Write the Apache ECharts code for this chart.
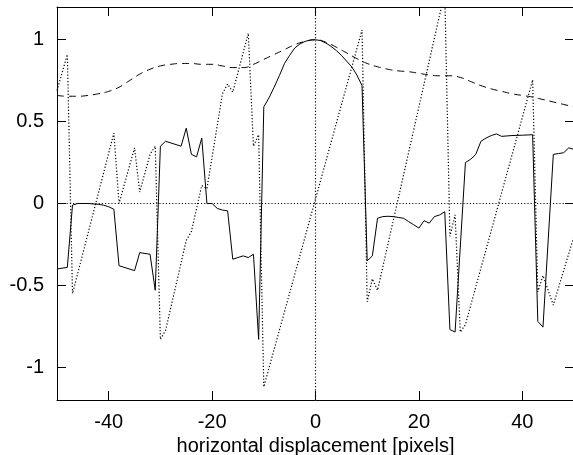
<!DOCTYPE html>
<html>
<head>
<meta charset="utf-8">
<script src="https://cdn.jsdelivr.net/npm/echarts@6/dist/echarts.min.js"></script>
<style>
	html, body { margin: 0; padding: 0; background: #fff; }
	#chart { width: 573px; height: 455px; }
</style>
</head>
<body>
<div id="chart"></div>
<script>
// solid curve [x, y]
var solidLine = [
	[-50,-0.40],[-48,-0.39],[-47,-0.01],[-46,0.0],[-44,0.0],[-42,-0.005],[-41,-0.01],[-40,-0.02],[-39,-0.035],
	[-38,-0.38],[-35,-0.41],[-34,-0.30],[-32,-0.31],[-31,-0.53],[-30,0.35],[-29,0.38],[-26,0.35],[-25,0.46],
	[-24,0.30],[-23,0.285],[-22,0.40],[-21,0.0],[-20,0.0],[-19,-0.03],[-18,-0.04],[-17,-0.045],[-16,-0.34],
	[-15,-0.33],[-14,-0.32],[-13,-0.33],[-12,-0.31],[-11,-0.83],[-10,0.59],[-9,0.645],[-8,0.71],[-7,0.78],
	[-6,0.855],[-5,0.905],[-4,0.95],[-3,0.975],[-2,0.99],[-1,0.998],[0,1.0],[1,0.995],[2,0.98],[3,0.96],
	[4,0.935],[5,0.905],[6,0.87],[7,0.835],[8,0.785],[9,0.72],[10,-0.35],[11,-0.32],[12,-0.09],[13,-0.08],
	[14,-0.078],[15,-0.08],[16,-0.085],[17,-0.09],[18,-0.11],[19,-0.13],[20,-0.15],[21,-0.105],[22,-0.12],
	[23,-0.08],[24,-0.07],[25,-0.05],[26,-0.77],[27,-0.785],[29,0.25],[30,0.27],[31,0.30],[32,0.38],[33,0.40],
	[34,0.415],[35,0.425],[36,0.41],[38,0.415],[40,0.417],[42,0.42],[43,-0.72],[44,-0.755],[46,0.30],
	[47,0.305],[48,0.31],[49,0.34],[50,0.33]
];

// dashed envelope
var dashedLine = [
	[-50,0.66],[-48,0.655],[-46,0.655],[-44,0.66],[-42,0.67],[-40,0.685],[-38,0.71],[-36,0.75],[-34,0.79],
	[-32,0.82],[-30,0.84],[-28,0.85],[-26,0.855],[-24,0.855],[-22,0.85],[-20,0.85],[-18,0.84],[-16,0.83],
	[-14,0.83],[-12,0.85],[-10,0.88],[-8,0.91],[-6,0.94],[-4,0.97],[-2,0.99],[0,1.0],[2,0.985],[4,0.955],
	[6,0.92],[8,0.885],[10,0.855],[12,0.835],[14,0.82],[16,0.81],[18,0.805],[20,0.795],[22,0.785],[24,0.78],
	[26,0.78],[28,0.77],[30,0.745],[32,0.72],[34,0.70],[36,0.685],[38,0.67],[40,0.66],[42,0.65],[44,0.635],
	[46,0.62],[48,0.605],[50,0.59]
];

// dotted sawtooth
var dottedLine = [
	[-50,0.69],[-48,0.91],[-47,-0.55],[-39,0.43],[-38,0.0],[-35,0.34],[-34,0.07],[-32,0.30],[-31,0.35],
	[-30,-0.83],[-29,-0.775],[-25,-0.225],[-24,-0.17],[-22,0.11],[-21,0.09],[-18,0.67],[-17,0.73],[-16,0.68],
	[-13,1.04],[-12,0.35],[-11,0.42],[-10,-1.12],[9,1.06],[10,-0.60],[11,-0.46],[12,-0.53],[25,1.29],
	[26,-0.2],[27,-0.07],[28,-0.785],[29,-0.74],[42,0.755],[43,-0.54],[44,-0.44],[46,-0.62],[50,-0.2]
];

var xTicks = [-40, -20, 0, 20, 40];
var yTicks = [-1, -0.5, 0, 0.5, 1];
var xTitle = "horizontal displacement [pixels]";

var font = "'Liberation Sans', Arial, sans-serif";

var makeX = function (pos, showLabel) {
	return {
		type: 'value', position: pos, min: -50, max: 50,
		name: showLabel ? xTitle : '', nameLocation: 'middle', nameGap: 31,
		nameTextStyle: { color: '#000', fontSize: 20, fontFamily: font },
		axisLine: { show: true, onZero: false, lineStyle: { color: '#000', width: 1 } },
		axisTick: { show: true, inside: true, length: 9, customValues: xTicks, lineStyle: { color: '#000' } },
		axisLabel: { show: showLabel, customValues: xTicks, margin: 12, color: '#000', fontSize: 20, fontFamily: font },
		splitLine: { show: false }
	};
};
var makeY = function (pos, showLabel) {
	return {
		type: 'value', position: pos, min: -1.2, max: 1.2,
		axisLine: { show: true, onZero: false, lineStyle: { color: '#000', width: 1 } },
		axisTick: { show: true, inside: true, length: 9, customValues: yTicks, lineStyle: { color: '#000' } },
		axisLabel: { show: showLabel, customValues: yTicks, margin: 13, color: '#000', fontSize: 20, fontFamily: font },
		splitLine: { show: false }
	};
};

var chart = echarts.init(document.getElementById('chart'));
chart.setOption({
	animation: false,
	backgroundColor: '#fff',
	grid: { left: 57, top: 7, width: 517, height: 393, outerBoundsMode: 'none', containLabel: false },
	xAxis: [makeX('bottom', true), makeX('top', false)],
	yAxis: [makeY('left', true), makeY('right', false)],
	series: [
		{
			type: 'line', data: dottedLine, showSymbol: false, clip: true,
			lineStyle: { color: '#000', width: 1.2, type: [1.2, 2] },
			markLine: {
				silent: true, symbol: 'none', label: { show: false },
				lineStyle: { color: '#111', width: 1.2, type: [1.2, 2] },
				data: [{ xAxis: 0 }, { yAxis: 0 }]
			}
		},
		{
			type: 'line', data: dashedLine, showSymbol: false, smooth: true, clip: true,
			lineStyle: { color: '#000', width: 1, type: [7, 5] }
		},
		{
			type: 'line', data: solidLine, showSymbol: false, clip: true,
			lineStyle: { color: '#000', width: 1 }
		}
	]
});
</script>
</body>
</html>
